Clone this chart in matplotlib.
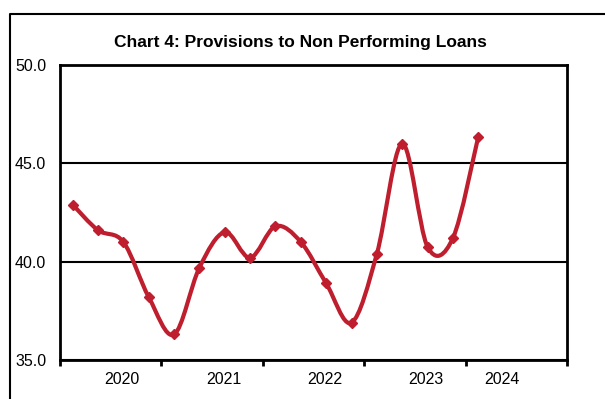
import numpy as np
import matplotlib.pyplot as plt
from matplotlib.path import Path
from matplotlib.patches import PathPatch
from matplotlib.lines import Line2D

plt.rcParams['font.family'] = ['Liberation Sans', 'DejaVu Sans']

# quarterly ratio, 2020 Q1 .. 2024 Q1
values = [42.9, 41.6, 41.0, 38.2, 36.3, 39.7, 41.5, 40.2, 41.8, 41.0,
          38.9, 36.9, 40.4, 46.0, 40.75, 41.2, 46.35]
year_labels = ['2020', '2021', '2022', '2023', '2024']
year_label_pos = [2.45, 6.45, 10.45, 14.45, 17.45]
n_slots = 20
line_color = '#BE1E2D'


def smooth_path(xs, ys):
    """Excel-style smoothed line: cubic bezier through every point."""
    pts = np.column_stack([xs, ys])
    padded = np.vstack([pts[0], pts, pts[-1]])
    verts = [pts[0]]
    codes = [Path.MOVETO]
    for i in range(len(pts) - 1):
        p0, p1, p2, p3 = padded[i], padded[i + 1], padded[i + 2], padded[i + 3]
        verts += [p1 + (p2 - p0) / 6, p2 - (p3 - p1) / 6, p2]
        codes += [Path.CURVE4] * 3
    return Path(verts, codes)


fig = plt.figure(figsize=(6.05, 3.99), dpi=100)
ax = fig.add_axes([60 / 605, 1 - 360 / 399, 507 / 605, 295 / 399])

xs = np.arange(len(values)) + 0.5
ax.add_patch(PathPatch(smooth_path(xs, values), fill=False, edgecolor=line_color,
                       lw=3, capstyle='round', joinstyle='round', zorder=3))
ax.plot(xs, values, ls='none', marker='D', ms=5, color=line_color, zorder=4)

ax.set_xlim(0, n_slots)
ax.set_ylim(35, 50)
ax.set_yticks([35, 40, 45, 50])
ax.set_yticklabels(['35.0', '40.0', '45.0', '50.0'])
ax.yaxis.grid(True, color='black', lw=1.5)
ax.set_axisbelow(True)

ax.set_xticks(np.arange(0, n_slots + 1, 4))
ax.set_xticklabels([])
ax.set_xticks(year_label_pos, minor=True)
ax.set_xticklabels(year_labels, minor=True)
ax.tick_params(axis='x', which='major', length=4, width=2, direction='out')
ax.tick_params(axis='x', which='minor', length=0, pad=9, labelsize=11.5)
ax.tick_params(axis='y', length=0, pad=10, labelsize=11.5)

for s in ax.spines.values():
    s.set_linewidth(2)
    s.set_color('black')

fig.text(300 / 605, 1 - 43 / 399, 'Chart 4: Provisions to Non Performing Loans',
         ha='center', va='center', fontsize=12.5, fontweight='bold')

# outer chart frame (only top and left edges visible)
fig.add_artist(Line2D([10 / 605, 10 / 605, 1.01], [-0.01, 1 - 14 / 399, 1 - 14 / 399],
                      color='black', lw=1.5, transform=fig.transFigure))

fig.savefig('out.png', dpi=100, facecolor='white')
